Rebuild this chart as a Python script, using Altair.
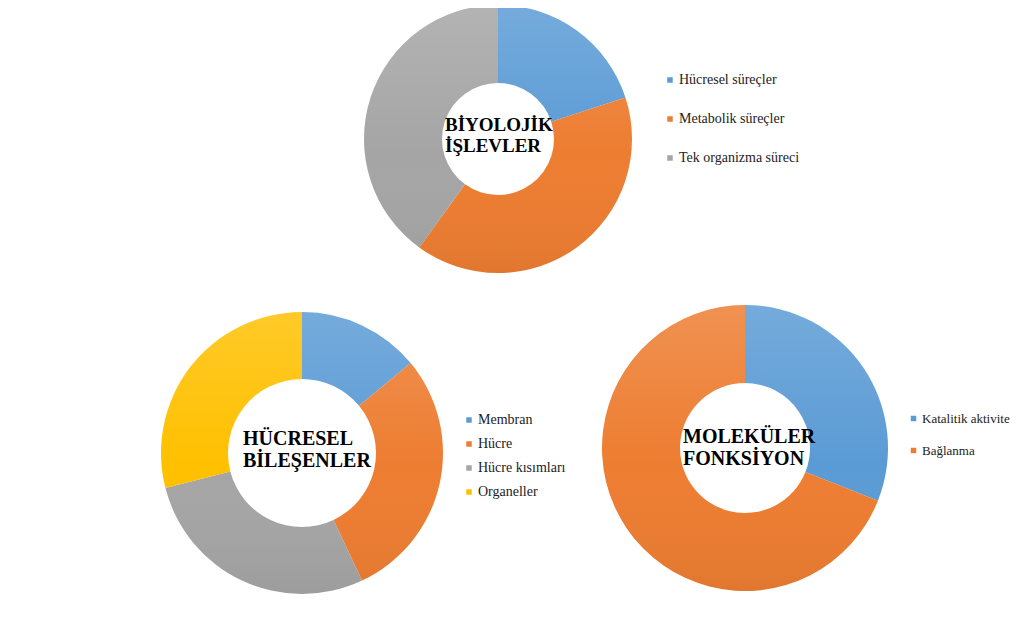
import altair as alt
import pandas as pd

# ---- data ----
bio_labels = ["Hücresel süreçler", "Metabolik süreçler", "Tek organizma süreci"]
bio_values = [20, 40, 40]
bio_colors = ["#5B9BD5", "#ED7D31", "#A5A5A5"]

cell_labels = ["Membran", "Hücre", "Hücre kısımları", "Organeller"]
cell_values = [14, 29, 28, 29]
cell_colors = ["#5B9BD5", "#ED7D31", "#A5A5A5", "#FFC000"]

mol_labels = ["Katalitik aktivite", "Bağlanma"]
mol_values = [31, 69]
mol_colors = ["#5B9BD5", "#ED7D31"]

titles = ["BİYOLOJİK\nİŞLEVLER", "HÜCRESEL\nBİLEŞENLER", "MOLEKÜLER\nFONKSİYON"]

FONT = "Liberation Serif"


def donut(labels, values, colors, cx, cy, r_out, r_in, lx, ly, row_pad, lsize):
    df = pd.DataFrame({"label": labels, "value": values, "idx": list(range(len(labels)))})
    arcs = alt.Chart(df).mark_arc(radius=r_out, radius2=r_in).encode(
        theta=alt.Theta("value:Q", stack=True),
        order=alt.Order("idx:Q"),
        color=alt.Color(
            "label:N",
            sort=labels,
            scale=alt.Scale(domain=labels, range=colors),
            legend=alt.Legend(
                title=None, orient="none", legendX=lx, legendY=ly,
                rowPadding=row_pad, symbolType="square", symbolSize=30,
                labelFont=FONT, labelFontSize=lsize, labelColor="#222222",
                labelOffset=2, symbolStrokeWidth=0, labelLimit=200,
            ),
        ),
        x=alt.value(cx),
        y=alt.value(cy),
    )
    shade = alt.Chart(pd.DataFrame({"k": [0]})).mark_arc(
        radius=r_out, radius2=r_in, theta=0, theta2=6.2832,
        fill=alt.Gradient(
            gradient="linear", x1=0, y1=0, x2=0, y2=1,
            stops=[
                alt.GradientStop(color="rgba(255,255,255,0.16)", offset=0),
                alt.GradientStop(color="rgba(255,255,255,0.0)", offset=0.55),
                alt.GradientStop(color="rgba(0,0,0,0.05)", offset=1),
            ],
        ),
    ).encode(x=alt.value(cx), y=alt.value(cy))
    return [arcs, shade]


def center_text(t, x, y, size):
    return alt.Chart(pd.DataFrame({"t": [t]})).mark_text(
        lineBreak="\n", align="left", baseline="alphabetic", font=FONT,
        fontWeight="bold", fontSize=size, lineHeight=size + 2, color="#000000",
    ).encode(text="t:N", x=alt.value(x), y=alt.value(y))


layers = []
layers += donut(bio_labels, bio_values, bio_colors, 490, 131, 134, 56, 655, 65, 25, 14)
layers += donut(cell_labels, cell_values, cell_colors, 294, 445, 141, 74, 454, 405, 10, 14)
layers += donut(mol_labels, mol_values, mol_colors, 737, 440, 143, 65, 899, 404, 18, 13)
layers.append(center_text(titles[0], 437, 123, 19))
layers.append(center_text(titles[1], 235, 437, 20))
layers.append(center_text(titles[2], 675, 435, 20))

chart = alt.layer(*layers).resolve_scale(
    color="independent", theta="independent"
).properties(
    width=1004, height=605, padding=0, autosize="none"
).configure_view(stroke=None).configure_legend(labelFont=FONT)

chart.save("out.html", embed_options={"renderer": "svg", "actions": False})
